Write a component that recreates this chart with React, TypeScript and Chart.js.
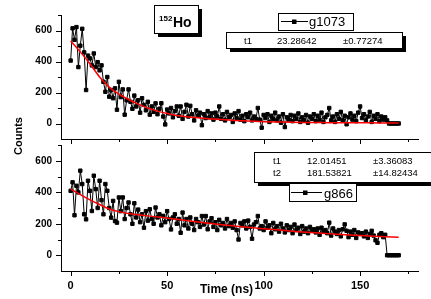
import React, { useEffect, useRef } from 'react';
import { Chart, registerables } from 'chart.js';

Chart.register(...registerables);

// ---------------- data ----------------
// time bins (ns), 1 ns wide
const timeBins: number[] = Array.from({ length: 171 }, (_, i) => i);

const g1073Counts: number[] = [
  406, 614, 540, 622, 364, 502, 611, 459, 216, 438,
  420, 375, 452, 364, 396, 343, 375, 269, 205, 300,
  173, 216, 163, 227, 89, 269, 170, 220, 57, 150,
  220, 140, 95, 180, 110, 150, 70, 163, 120, 85,
  140, 57, 110, 75, 130, 60, 95, 131, 45, -6,
  90, 65, 100, 40, 80, 110, 50, 110, 30, 75,
  121, 45, 114, 60, 20, 85, 50, 70, -11, 60,
  35, 80, 40, 65, 25, 70, 45, 110, 30, 60,
  20, 75, 40, 55, 10, 65, 35, 80, 25, 50,
  15, 60, 40, 70, 20, 45, 30, 100, 25, -27,
  55, 35, 60, 10, 50, 30, 70, 20, 45, 5,
  60, -23, 40, 25, 55, 15, 50, 30, 65, 10,
  40, 20, 55, 5, 45, 30, 60, 15, 50, 25,
  70, 10, 40, 55, 100, 20, 45, 10, 60, 30,
  75, 20, 50, -5, 40, 65, 25, 50, 15, 70,
  110, 35, 60, 20, 45, 75, 10, 50, 30, 60,
  15, 45, 25, 40, 20, 0, 0, 0, 0, 0,
  0,
];

const g866Counts: number[] = [
  409, 463, 254, 441, 399, 537, 452, 260, 228, 473,
  409, 281, 505, 420, 300, 473, 350, 260, 452, 409,
  300, 239, 345, 217, 207, 367, 280, 367, 230, 300,
  335, 260, 200, 330, 240, 290, 210, 260, 175, 280,
  220, 292, 230, 200, 303, 240, 260, 190, 250, 210,
  280, 230, 164, 240, 260, 200, 230, 143, 271, 190,
  230, 170, 240, 200, 160, 230, 210, 180, 249, 195,
  249, 165, 215, 235, 180, 210, 160, 225, 190, 205,
  170, 230, 185, 205, 175, 215, 160, 100, 205, 190,
  215, 170, 220, 180, 105, 195, 210, 249, 170, 185,
  160, 215, 175, 190, 140, 205, 165, 185, 150, 200,
  170, 145, 190, 160, 180, 140, 195, 160, 175, 135,
  185, 150, 170, 140, 180, 155, 165, 145, 170, 130,
  175, 150, 160, 140, 207, 125, 170, 150, 135, 160,
  120, 165, 196, 155, 115, 150, 130, 160, 110, 145,
  135, 140, 120, 150, 110, 135, 155, 125, 95, 79,
  130, 140, 115, 130, 0, 0, 0, 0, 0, 0,
  0,
];

// fitted curves
const fitTimes: number[] = [0, 5, 10, 15, 20, 25, 30, 35, 40, 45, 50, 55, 60, 65, 70, 75, 80, 85, 90, 95, 100, 110, 120, 130, 140, 150, 160, 170];
const g1073Fit: number[] = [533, 462, 385, 300, 235, 190, 155, 125, 100, 80, 64, 52, 44, 38, 33, 28, 24, 20, 17, 14, 12, 9, 7, 6, 5, 5, 4, 4];
const g866Fit: number[] = [420, 385, 352, 322, 294, 277, 265, 257, 250, 243, 236, 228, 220, 212, 205, 198, 192, 186, 180, 174, 168, 158, 148, 140, 132, 125, 119, 114];

// axis ticks
const xTickValues: number[] = [0, 25, 50, 75, 100, 125, 150, 175];
const xLabelValues: number[] = [0, 50, 100, 150];
const yTickValues: number[] = [0, 100, 200, 300, 400, 500, 600, 700];
const yLabelValues: number[] = [0, 200, 400, 600];

// fit parameter tables
const g1073Params: string[][] = [['t1', '23.28642', '\u00b10.77274']];
const g866Params: string[][] = [
  ['t1', '12.01451', '\u00b13.36083'],
  ['t2', '181.53821', '\u00b114.82434'],
];

const FONT = "'Liberation Sans', Arial, Helvetica, sans-serif";

// ---------------- helpers ----------------
function box(ctx: CanvasRenderingContext2D, x: number, y: number, w: number, h: number, shadow: number) {
  if (shadow) {
    ctx.fillStyle = '#000';
    ctx.fillRect(x + shadow, y + shadow, w, h);
  }
  ctx.fillStyle = '#fff';
  ctx.fillRect(x, y, w, h);
  ctx.strokeStyle = '#000';
  ctx.lineWidth = 1;
  ctx.strokeRect(x + 0.5, y + 0.5, w, h);
}

function legendSample(ctx: CanvasRenderingContext2D, x1: number, x2: number, y: number, mx: number) {
  ctx.strokeStyle = '#000';
  ctx.lineWidth = 1;
  ctx.beginPath();
  ctx.moveTo(x1, y + 0.5);
  ctx.lineTo(x2, y + 0.5);
  ctx.stroke();
  ctx.fillStyle = '#000';
  ctx.fillRect(mx - 2, y - 1.5, 4.5, 4.5);
}

const tickMarks = {
  id: 'tickMarks',
  afterDraw(chart: any) {
    const ctx: CanvasRenderingContext2D = chart.ctx;
    const { left, bottom } = chart.chartArea;
    const xs = chart.scales.x;
    const ys = chart.scales.y;
    ctx.save();
    ctx.strokeStyle = '#000';
    ctx.lineWidth = 1;
    ctx.beginPath();
    xTickValues.forEach((v) => {
      const px = Math.round(xs.getPixelForValue(v)) + 0.5;
      const len = xLabelValues.includes(v) ? 5 : 3;
      ctx.moveTo(px, bottom);
      ctx.lineTo(px, bottom + len);
    });
    yTickValues.forEach((v) => {
      const py = Math.round(ys.getPixelForValue(v)) + 0.5;
      const len = yLabelValues.includes(v) ? 5 : 3;
      ctx.moveTo(left - len, py);
      ctx.lineTo(left, py);
    });
    ctx.stroke();
    ctx.restore();
  },
};

const topNotes = {
  id: 'topNotes',
  afterDraw(chart: any) {
    const ctx: CanvasRenderingContext2D = chart.ctx;
    ctx.save();
    // isotope label
    box(ctx, 154, 5, 44, 28, 4);
    ctx.fillStyle = '#000';
    ctx.textAlign = 'left';
    ctx.textBaseline = 'alphabetic';
    ctx.font = `bold 8px ${FONT}`;
    ctx.fillText('152', 159, 21);
    ctx.font = `bold 14px ${FONT}`;
    ctx.fillText('Ho', 173, 26.5);
    // legend
    box(ctx, 278, 13, 75, 17, 0);
    legendSample(ctx, 281, 308, 21, 294);
    ctx.fillStyle = '#000';
    ctx.font = `13px ${FONT}`;
    ctx.fillText('g1073', 309, 26);
    // parameter table
    box(ctx, 226, 32, 176, 16, 4);
    ctx.fillStyle = '#000';
    ctx.font = `9.5px ${FONT}`;
    g1073Params.forEach((row, i) => {
      ctx.fillText(row[0], 244, 43.5 + i * 12);
      ctx.fillText(row[1], 277, 43.5 + i * 12);
      ctx.fillText(row[2], 343, 43.5 + i * 12);
    });
    ctx.restore();
  },
};

const bottomNotes = {
  id: 'bottomNotes',
  afterDraw(chart: any) {
    const ctx: CanvasRenderingContext2D = chart.ctx;
    ctx.save();
    // parameter table
    box(ctx, 254, 152, 180, 30, 4);
    ctx.fillStyle = '#000';
    ctx.textAlign = 'left';
    ctx.textBaseline = 'alphabetic';
    ctx.font = `9.5px ${FONT}`;
    g866Params.forEach((row, i) => {
      ctx.fillText(row[0], 273, 164 + i * 12);
      ctx.fillText(row[1], 307, 164 + i * 12);
      ctx.fillText(row[2], 373, 164 + i * 12);
    });
    // legend
    box(ctx, 289, 183, 67, 18, 0);
    legendSample(ctx, 291, 322, 192, 305);
    ctx.fillStyle = '#000';
    ctx.font = `13px ${FONT}`;
    ctx.fillText('g866', 324, 197.5);
    // axis titles
    ctx.font = `bold 12px ${FONT}`;
    ctx.textAlign = 'center';
    ctx.fillText('Time (ns)', 226.5, 293);
    ctx.save();
    ctx.translate(21.5, 136);
    ctx.rotate(-Math.PI / 2);
    ctx.font = `bold 11px ${FONT}`;
    ctx.textAlign = 'center';
    ctx.fillText('Counts', 0, 0);
    ctx.restore();
    ctx.restore();
  },
};

function makeConfig(counts: number[], fit: number[], label: string, panel: 'top' | 'bottom', notes: any): any {
  const isTop = panel === 'top';
  return {
    type: 'line',
    data: {
      datasets: [
        {
          label: 'fit',
          data: fitTimes.map((t, i) => ({ x: t, y: fit[i] })),
          borderColor: '#ff0000',
          borderWidth: 1.5,
          pointRadius: 0,
          cubicInterpolationMode: 'monotone',
          fill: false,
          order: 0,
        },
        {
          label,
          data: timeBins.map((t, i) => ({ x: t, y: counts[i] })),
          borderColor: '#000',
          backgroundColor: '#000',
          borderWidth: 1,
          pointStyle: 'rect',
          pointRadius: 2.4,
          pointBorderWidth: 1,
          pointBackgroundColor: '#000',
          pointBorderColor: '#000',
          tension: 0,
          fill: false,
          order: 1,
        },
      ],
    },
    options: {
      animation: false,
      responsive: false,
      devicePixelRatio: 1,
      events: [],
      layout: {
        padding: isTop
          ? { top: 14, left: 0, right: 13, bottom: 154 }
          : { top: 145, left: 0, right: 13, bottom: 0 },
      },
      plugins: {
        legend: { display: false },
        tooltip: { enabled: false },
        title: { display: false },
      },
      scales: {
        x: {
          type: 'linear',
          min: -5,
          max: 180,
          grid: { display: true, drawOnChartArea: false, drawTicks: false },
          border: { display: true, color: '#000', width: 1 },
          ticks: {
            display: !isTop,
            stepSize: 25,
            includeBounds: false,
            autoSkip: false,
            maxRotation: 0,
            padding: 8,
            color: '#000',
            font: { family: FONT, size: 11, weight: 'bold' },
            callback: (v: number) => (xLabelValues.includes(v) ? String(v) : ''),
          },
          afterFit: (s: any) => {
            s.height = isTop ? 6 : 28;
          },
        },
        y: {
          type: 'linear',
          min: -100,
          max: 700,
          grid: { display: true, drawOnChartArea: false, drawTicks: false },
          border: { display: true, color: '#000', width: 1 },
          ticks: {
            stepSize: 100,
            includeBounds: false,
            autoSkip: false,
            padding: 9,
            color: '#000',
            font: { family: FONT, size: 10, weight: 'bold' },
            callback: (v: number) => (yLabelValues.includes(v) ? String(v) : ''),
          },
          afterFit: (s: any) => {
            s.width = 61;
          },
        },
      },
    },
    plugins: [tickMarks, notes],
  };
}

export default function App() {
  const topRef = useRef<HTMLCanvasElement>(null);
  const bottomRef = useRef<HTMLCanvasElement>(null);

  useEffect(() => {
    const top = new Chart(topRef.current as HTMLCanvasElement, makeConfig(g1073Counts, g1073Fit, 'g1073', 'top', topNotes));
    const bottom = new Chart(bottomRef.current as HTMLCanvasElement, makeConfig(g866Counts, g866Fit, 'g866', 'bottom', bottomNotes));
    return () => {
      top.destroy();
      bottom.destroy();
    };
  }, []);

  return (
    <div style={{ position: 'fixed', left: 0, top: 0, width: 431, height: 299, background: '#fff' }}>
      <canvas ref={topRef} width={431} height={299} style={{ position: 'absolute', left: 0, top: 0, width: 431, height: 299 }} />
      <canvas ref={bottomRef} width={431} height={299} style={{ position: 'absolute', left: 0, top: 0, width: 431, height: 299 }} />
    </div>
  );
}
